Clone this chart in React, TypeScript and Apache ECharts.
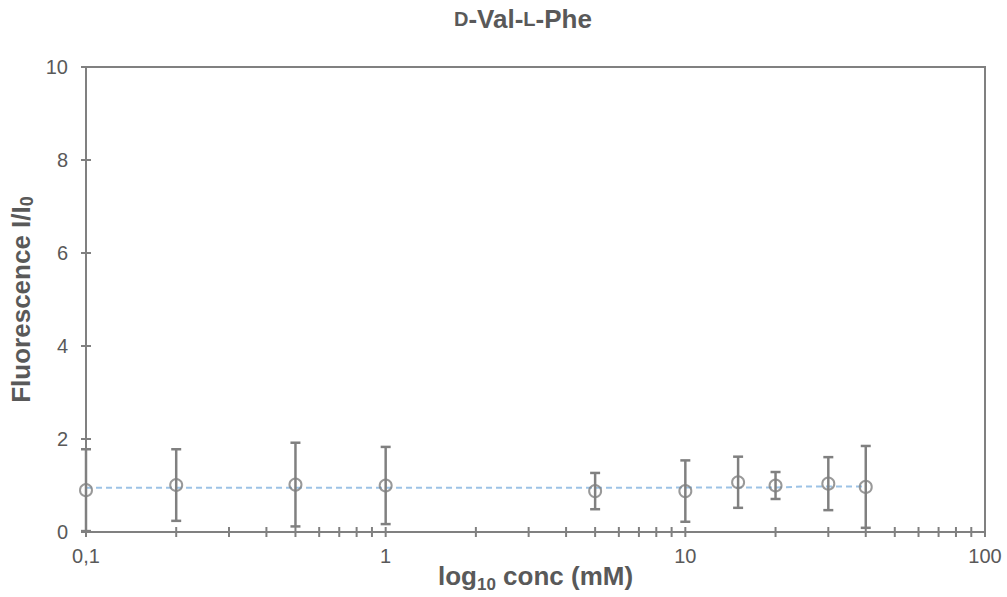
import React, { useEffect, useRef } from "react";
import * as echarts from "echarts";

const concentrations = [0.1, 0.2, 0.5, 1, 5, 10, 15, 20, 30, 40];
const meanValues = [0.9, 1.01, 1.02, 1.0, 0.88, 0.88, 1.07, 1.0, 1.04, 0.97];
const errorValues = [0.88, 0.77, 0.9, 0.83, 0.39, 0.66, 0.55, 0.29, 0.57, 0.88];

const fitConc = [0.1, 1, 5, 10, 20, 25, 30, 40];
const fitValues = [0.95, 0.95, 0.95, 0.955, 0.955, 0.98, 0.98, 0.98];

const xTickValues = [
  0.1, 0.2, 0.3, 0.4, 0.5, 0.6, 0.7, 0.8, 0.9,
  1, 2, 3, 4, 5, 6, 7, 8, 9,
  10, 20, 30, 40, 50, 60, 70, 80, 90, 100,
];
const yTickValues = [0, 2, 4, 6, 8, 10];

const AXIS = "#808080";
const TEXT = "#595959";
const FONT = "'Liberation Sans', Arial, sans-serif";

export default function App() {
  const ref = useRef<HTMLDivElement>(null);
  useEffect(() => {
    if (!ref.current) return;
    const chart = echarts.init(ref.current, null, { renderer: "svg" });
    const tickStyle = { stroke: AXIS, lineWidth: 2 };
    chart.setOption({
      animation: false,
      textStyle: { fontFamily: FONT },
      title: {
        text: "{sc|D}{n|-Val-}{sc|L}{n|-Phe}",
        left: 449,
        top: 1,
        textStyle: {
          rich: {
            sc: { fontSize: 20, fontWeight: "bold", color: TEXT, fontFamily: FONT },
            n: { fontSize: 26, fontWeight: "bold", color: TEXT, fontFamily: FONT },
          },
        },
      },
      grid: {
        left: 86,
        right: 22,
        top: 67,
        bottom: 65,
        containLabel: false,
        outerBoundsMode: "none",
        show: true,
        borderColor: AXIS,
        borderWidth: 2,
      },
      xAxis: {
        type: "log",
        logBase: 10,
        min: 0.1,
        max: 100,
        name: "{n|log}{s|10}{n| conc (mM)}",
        nameLocation: "middle",
        nameGap: 29,
        nameMoveOverlap: false,
        nameTextStyle: {
          verticalAlign: "top",
          rich: {
            n: { fontSize: 26, lineHeight: 28, fontWeight: "bold", color: TEXT, fontFamily: FONT, verticalAlign: "bottom" },
            s: { fontSize: 17, lineHeight: 20, fontWeight: "bold", color: TEXT, fontFamily: FONT, verticalAlign: "bottom", padding: [0, 0, -4, 0] },
          },
        },
        axisLine: { lineStyle: { color: AXIS, width: 2 } },
        axisTick: { show: false },
        splitLine: { show: false },
        minorTick: { show: false },
        axisLabel: {
          color: TEXT,
          fontSize: 20,
          margin: 14,
          formatter: (v: number) => (Math.abs(v - 0.1) < 1e-9 ? "0,1" : String(Math.round(v))),
        },
      },
      yAxis: {
        type: "value",
        min: 0,
        max: 10,
        interval: 2,
        name: "{n|Fluorescence I/I}{s|0}",
        nameLocation: "middle",
        nameGap: 50,
        nameRotate: 90,
        nameMoveOverlap: false,
        nameTextStyle: {
          rich: {
            n: { fontSize: 26, fontWeight: "bold", color: TEXT, fontFamily: FONT },
            s: { fontSize: 18, fontWeight: "bold", color: TEXT, fontFamily: FONT, padding: [12, 0, 0, 0] },
          },
        },
        axisLine: { lineStyle: { color: AXIS, width: 2 } },
        axisTick: { show: false },
        splitLine: { show: false },
        axisLabel: { color: TEXT, fontSize: 20, margin: 18 },
      },
      series: [
        {
          type: "line",
          data: fitConc.map((c, i) => [c, fitValues[i]]),
          symbol: "none",
          lineStyle: { color: "#9dc3e6", width: 2, type: [6, 4] },
          z: 2,
        },
        {
          type: "custom",
          data: concentrations.map((c, i) => [c, meanValues[i] - errorValues[i], meanValues[i] + errorValues[i]]),
          encode: { x: 0, y: [1, 2] },
          z: 3,
          renderItem: (params: any, api: any) => {
            const lo = api.coord([api.value(0), api.value(1)]);
            const hi = api.coord([api.value(0), api.value(2)]);
            const w = 5;
            const st = { stroke: AXIS, lineWidth: 2.5 };
            return {
              type: "group",
              children: [
                { type: "line", shape: { x1: hi[0], y1: hi[1], x2: lo[0], y2: lo[1] }, style: st },
                { type: "line", shape: { x1: hi[0] - w, y1: hi[1], x2: hi[0] + w, y2: hi[1] }, style: st },
                { type: "line", shape: { x1: lo[0] - w, y1: lo[1], x2: lo[0] + w, y2: lo[1] }, style: st },
              ],
            };
          },
        },
        {
          type: "scatter",
          data: concentrations.map((c, i) => [c, meanValues[i]]),
          symbol: "circle",
          symbolSize: 12,
          itemStyle: { color: "rgba(255,255,255,0)", borderColor: AXIS, borderWidth: 2 },
          z: 4,
        },
        {
          type: "custom",
          silent: true,
          data: xTickValues.map((v) => [v, 0]),
          encode: { x: 0, y: 1 },
          z: 5,
          renderItem: (params: any, api: any) => {
            const p = api.coord([api.value(0), api.value(1)]);
            return { type: "line", shape: { x1: p[0], y1: p[1] - 5, x2: p[0], y2: p[1] + 5 }, style: tickStyle };
          },
        },
        {
          type: "custom",
          silent: true,
          data: yTickValues.map((v) => [0.1, v]),
          encode: { x: 0, y: 1 },
          z: 5,
          renderItem: (params: any, api: any) => {
            const p = api.coord([api.value(0), api.value(1)]);
            return { type: "line", shape: { x1: p[0] - 5, y1: p[1], x2: p[0] + 5, y2: p[1] }, style: tickStyle };
          },
        },
      ],
    });
    return () => chart.dispose();
  }, []);
  return <div ref={ref} style={{ width: 1007, height: 597, position: "absolute", left: 0, top: 0 }} />;
}
